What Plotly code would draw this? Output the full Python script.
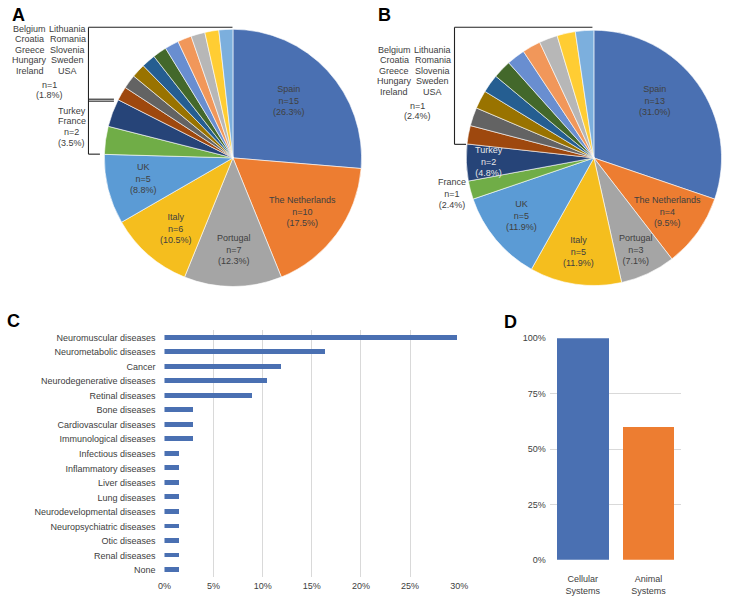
import plotly.graph_objects as go

W, H = 732, 597

# ---------------- DATA ----------------
countries_a = ["Spain", "The Netherlands", "Portugal", "Italy", "UK", "France", "Turkey",
               "Belgium", "Croatia", "Greece", "Hungary", "Ireland",
               "Lithuania", "Romania", "Slovenia", "Sweden", "USA"]
counts_a = [15, 10, 7, 6, 5, 2, 2, 1, 1, 1, 1, 1, 1, 1, 1, 1, 1]
pct_a = ["26.3%", "17.5%", "12.3%", "10.5%", "8.8%", "3.5%", "3.5%"] + ["1.8%"] * 10

countries_b = ["Spain", "The Netherlands", "Portugal", "Italy", "UK", "France", "Turkey",
               "Belgium", "Croatia", "Greece", "Hungary", "Ireland",
               "Lithuania", "Romania", "Slovenia", "Sweden", "USA"]
counts_b = [13, 4, 3, 5, 5, 1, 2, 1, 1, 1, 1, 1, 1, 1, 1, 1, 1]
pct_b = ["31.0%", "9.5%", "7.1%", "11.9%", "11.9%", "2.4%", "4.8%"] + ["2.4%"] * 10

n1_left = ["Belgium", "Croatia", "Greece", "Hungary", "Ireland"]
n1_right = ["Lithuania", "Romania", "Slovenia", "Sweden", "USA"]

diseases = ["Neuromuscular diseases", "Neurometabolic diseases", "Cancer",
            "Neurodegenerative diseases", "Retinal diseases", "Bone diseases",
            "Cardiovascular diseases", "Immunological diseases", "Infectious diseases",
            "Inflammatory diseases", "Liver diseases", "Lung diseases",
            "Neurodevelopmental diseases", "Neuropsychiatric diseases", "Otic diseases",
            "Renal diseases", "None"]
disease_share = [20/67, 11/67, 8/67, 7/67, 6/67, 2/67, 2/67, 2/67,
                 1/67, 1/67, 1/67, 1/67, 1/67, 1/67, 1/67, 1/67, 1/67]
c_ticks = [0, 0.05, 0.10, 0.15, 0.20, 0.25, 0.30]
c_ticklabels = ["0%", "5%", "10%", "15%", "20%", "25%", "30%"]

systems = ["Cellular<br>Systems", "Animal<br>Systems"]
system_share = [1.0, 0.597]
d_ticks = [0, 0.25, 0.5, 0.75, 1.0]
d_ticklabels = ["0%", "25%", "50%", "75%", "100%"]

# ---------------- STYLE ----------------
FONT = "Arial, Liberation Sans, sans-serif"
TXT = "#404040"
pie_colors = ["#4A70B2", "#ED7D31", "#A5A5A5", "#F5BE1E", "#5B9BD5", "#70AD47", "#264478",
              "#9E480E", "#636363", "#997300", "#255E91", "#43682B", "#698ED0",
              "#F1975A", "#B7B7B7", "#FFCD33", "#7CAFDD"]


def px(x):
    return x / W


def py(y):
    return 1 - y / H


fig = go.Figure()

# Pie A
ra, cxa, cya = 131.5, 231, 155.5
fig.add_trace(go.Pie(
    labels=countries_a, values=counts_a, sort=False, direction="clockwise", rotation=0,
    marker=dict(colors=pie_colors, line=dict(color="white", width=0.6)),
    textinfo="none", hoverinfo="label+value", showlegend=False,
    domain=dict(x=[px(cxa - ra), px(cxa + ra)], y=[py(cya + ra), py(cya - ra)]),
))
# Pie B
rb, cxb, cyb = 130.5, 600, 155.5
fig.add_trace(go.Pie(
    labels=countries_b, values=counts_b, sort=False, direction="clockwise", rotation=0,
    marker=dict(colors=pie_colors, line=dict(color="white", width=0.6)),
    textinfo="none", hoverinfo="label+value", showlegend=False,
    domain=dict(x=[px(cxb - rb), px(cxb + rb)], y=[py(cyb + rb), py(cyb - rb)]),
))

# Bar C
fig.add_trace(go.Bar(
    x=disease_share, y=diseases, orientation="h", width=0.34,
    marker=dict(color="#4A70B2", line=dict(width=0)), showlegend=False,
    xaxis="x", yaxis="y",
))
# Bar D
fig.add_trace(go.Bar(
    x=systems, y=system_share, width=0.79,
    marker=dict(color=["#4A70B2", "#ED7D31"], line=dict(width=0)), showlegend=False,
    xaxis="x2", yaxis="y2",
))

ann = []


def label(x, y, text, size=9, color=TXT, xanchor="center"):
    ann.append(dict(x=px(x), y=py(y), xref="paper", yref="paper", text=text,
                    showarrow=False, xanchor=xanchor, yanchor="middle",
                    font=dict(family=FONT, size=size, color=color)))


# panel letters
for ch, x, y in [("A", 12, 10.5), ("B", 386, 10.5), ("C", 7, 321.5), ("D", 515, 322)]:
    ann.append(dict(x=px(x), y=py(y), xref="paper", yref="paper", text="<b>%s</b>" % ch,
                    showarrow=False, xanchor="center", yanchor="middle",
                    font=dict(family=FONT, size=18, color="black")))

# pie A slice labels (3 lines, centered on middle line)
pos_a = {"Spain": (288.3, 96.7), "The Netherlands": (301.7, 210), "Portugal": (231.7, 248.3),
         "Italy": (172.3, 227.3), "UK": (140, 176.7)}
for name, cnt, pc in zip(countries_a, counts_a, pct_a):
    if name in pos_a:
        x, y = pos_a[name]
        label(x, y, "%s<br>n=%d<br>(%s)" % (name, cnt, pc))

pos_b = {"Spain": (662.7, 96.7), "The Netherlands": (675.3, 210), "Portugal": (642.7, 248.3),
         "Italy": (584.3, 250.7), "UK": (526, 214.3), "Turkey": (492.7, 159.3),
         "France": (455.3, 191.7)}
for name, cnt, pc in zip(countries_b, counts_b, pct_b):
    if name in pos_b:
        x, y = pos_b[name]
        col = "#E8E8E8" if name == "Turkey" else TXT
        label(x, y, "%s<br>n=%d<br>(%s)" % (name, cnt, pc), color=col)

# grouped n=1 labels
rows_a = [24, 34.7, 45.3, 56, 66.7]
for nm_l, nm_r, y in zip(n1_left, n1_right, rows_a):
    label(23.3, y, nm_l)
    label(62, y, nm_r)
label(43.3, 81, "n=%d" % counts_a[7])
label(43.3, 91.7, "(%s)" % pct_a[7])
for txt, y in zip(["Turkey", "France", "n=%d" % counts_a[5], "(%s)" % pct_a[5]],
                  [107.7, 118.3, 129.3, 140]):
    label(66, y, txt)

rows_b = [45.7, 56, 66.7, 77.7, 88.3]
for nm_l, nm_r, y in zip(n1_left, n1_right, rows_b):
    label(396, y, nm_l)
    label(435.3, y, nm_r)
label(419.3, 102.7, "n=%d" % counts_b[7])
label(419.3, 113.3, "(%s)" % pct_b[7])

# bracket lines
shapes = []


def line(x0, y0, x1, y1, w=1.1):
    shapes.append(dict(type="line", xref="paper", yref="paper",
                       x0=px(x0), y0=py(y0), x1=px(x1), y1=py(y1),
                       line=dict(color="#222222", width=w)))


line(83.3, 22.7, 230.5, 22.7)
line(83.3, 22.7, 83.3, 151.7)
line(83.3, 95.8, 109.3, 95.8)
line(83.3, 97.8, 109.3, 97.8)
line(83.3, 151.7, 95, 151.7)

line(457.5, 22.7, 598.5, 22.7)
line(457.5, 22.7, 457.5, 141.7)
line(457.5, 141.7, 469.3, 141.7)

fig.update_layout(
    width=W, height=H,
    margin=dict(l=0, r=0, t=0, b=0),
    paper_bgcolor="white", plot_bgcolor="white",
    font=dict(family=FONT, size=9, color=TXT),
    annotations=ann, shapes=shapes,
    bargap=0,
    xaxis=dict(domain=[px(161), px(462.3)], range=[0, 0.30], tickvals=c_ticks,
               ticktext=c_ticklabels, showgrid=True, gridcolor="#D9D9D9", gridwidth=1,
               zeroline=False, showline=False, ticks="", anchor="y",
               ticklabelstandoff=2,
               tickfont=dict(size=9, color=TXT), fixedrange=True),
    yaxis=dict(domain=[py(582), py(331)], autorange="reversed", showgrid=False,
               zeroline=False, showline=False, ticks="", ticklabelstandoff=8,
               tickfont=dict(size=9, color=TXT), anchor="x", fixedrange=True),
    xaxis2=dict(domain=[px(555), px(689.3)], showgrid=False, zeroline=False,
                showline=False, ticks="", anchor="y2", tickfont=dict(size=9, color=TXT),
                ticklabelstandoff=12, fixedrange=True),
    yaxis2=dict(domain=[py(564.3), py(339)], range=[0, 1.0], tickvals=d_ticks,
                ticktext=d_ticklabels, showgrid=True, gridcolor="#D9D9D9", gridwidth=1,
                zeroline=False, showline=False, ticks="", anchor="x2",
                ticklabelstandoff=3,
                tickfont=dict(size=9, color=TXT), fixedrange=True),
)

fig.write_html("out.html", config={"displayModeBar": False},
               post_script="document.body.style.margin='0';document.body.style.overflow='hidden';")
